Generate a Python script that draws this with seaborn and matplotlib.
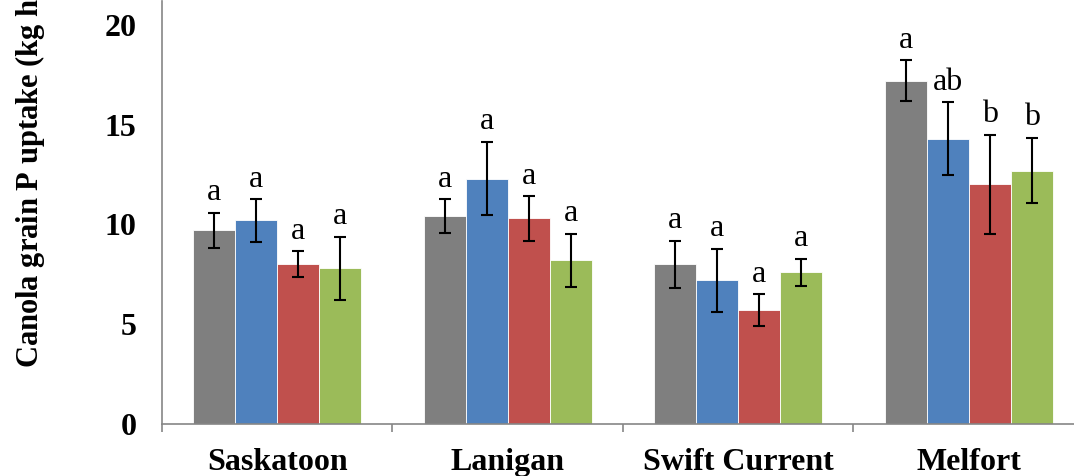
import pandas as pd
import seaborn as sns
import matplotlib.pyplot as plt
from matplotlib.ticker import FixedLocator

# values
sites = ['Saskatoon', 'Lanigan', 'Swift Current', 'Melfort']
treatments = ['T1', 'T2', 'T3', 'T4']
uptake = {
    'T1': [9.7, 10.4, 8.0, 17.2],
    'T2': [10.2, 12.3, 7.2, 14.3],
    'T3': [8.0, 10.3, 5.7, 12.0],
    'T4': [7.8, 8.2, 7.6, 12.7],
}
errors = {
    'T1': [0.87, 0.85, 1.17, 1.02],
    'T2': [1.07, 1.83, 1.57, 1.82],
    'T3': [0.65, 1.12, 0.79, 2.50],
    'T4': [1.59, 1.32, 0.68, 1.63],
}
letters = {
    'T1': ['a', 'a', 'a', 'a'],
    'T2': ['a', 'a', 'a', 'ab'],
    'T3': ['a', 'a', 'a', 'b'],
    'T4': ['a', 'a', 'a', 'b'],
}
colors = ['#7f7f7f', '#4f81bd', '#c0504d', '#9bbb59']

rows = []
for t in treatments:
    for i, s in enumerate(sites):
        rows.append({'site': s, 'trt': t, 'uptake': uptake[t][i],
                     'err': errors[t][i], 'letter': letters[t][i]})
df = pd.DataFrame(rows)

sns.set_style('white')
plt.rcParams['font.family'] = ['Liberation Serif', 'DejaVu Serif']
plt.rcParams['text.color'] = 'black'
plt.rcParams['xtick.labelcolor'] = 'black'
plt.rcParams['ytick.labelcolor'] = 'black'

fig = plt.figure(figsize=(10.74, 4.76), dpi=100)
ax = fig.add_axes([0.1508, 0.1092, 0.8585, 0.889])

sns.barplot(data=df, x='site', y='uptake', hue='trt', order=sites,
            hue_order=treatments, palette=colors, width=0.727,
            errorbar=None, legend=False, saturation=1,
            edgecolor='white', linewidth=0.6, ax=ax)

# error bars and letters, bars come out hue by hue
k = 0
for t in treatments:
    for i, s in enumerate(sites):
        p = ax.patches[k]
        k += 1
        xc = p.get_x() + p.get_width() / 2
        val = uptake[t][i]
        e = errors[t][i]
        ax.errorbar(xc, val, yerr=e, color='black', elinewidth=1.5,
                    capsize=4.5, capthick=1.5, fmt='none')
        ax.annotate(letters[t][i], (xc, val + e), xytext=(0, 4),
                    textcoords='offset points', ha='center', va='bottom',
                    fontsize=23, color='black')

ax.set_ylim(0, 21.2)
ax.set_xlim(-0.5, 3.5)
ax.set_yticks([0, 5, 10, 15, 20])
ax.set_xlabel('')
ax.set_ylabel('')

for side in ['top', 'right']:
    ax.spines[side].set_visible(False)
for side in ['left', 'bottom']:
    ax.spines[side].set_color('#868686')
    ax.spines[side].set_linewidth(1.2)

ax.tick_params(axis='y', direction='out', length=6.5, width=1.2,
               color='#868686', pad=12, labelsize=23, labelcolor='black')
ax.tick_params(axis='x', which='major', length=0, pad=17.5, labelsize=23,
               labelcolor='black')
ax.xaxis.set_minor_locator(FixedLocator([-0.5, 0.5, 1.5, 2.5]))
ax.tick_params(axis='x', which='minor', direction='out', length=6,
               width=1.2, color='#868686', bottom=True)
for lab in ax.get_xticklabels() + ax.get_yticklabels():
    lab.set_fontweight('bold')

fig.text(0.027, 0.227, 'Canola grain P uptake (kg ha$^{-1}$)', rotation=90,
         ha='center', va='bottom', fontsize=22, fontweight='bold',
         color='black')

fig.savefig('out.png', dpi=100)
